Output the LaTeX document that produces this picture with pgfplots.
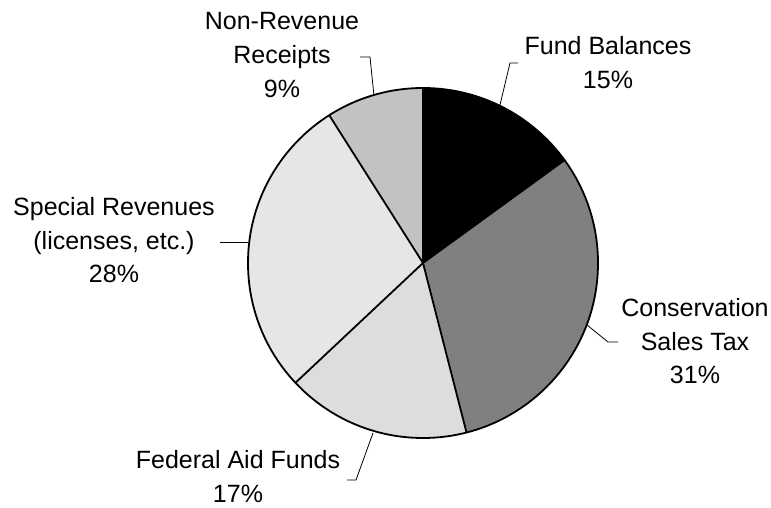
\documentclass[border=0pt]{standalone}
\usepackage{fontspec}
\setmainfont{Liberation Sans}
\usepackage{pgfplots}
\pgfplotsset{compat=1.18}
\definecolor{consv}{HTML}{808080}
\definecolor{fedr}{HTML}{DDDDDD}
\definecolor{spec}{HTML}{E6E6E6}
\definecolor{nonrev}{HTML}{C2C2C2}
\newcommand\labfont{\fontsize{25bp}{34bp}\selectfont}
\tikzset{lab/.style={font=\labfont, inner sep=0pt, anchor=base}}
% slice shares in percent (clockwise from 12 o'clock)
% Fund Balances 15, Conservation Sales Tax 31, Federal Aid Funds 17,
% Special Revenues 28, Non-Revenue Receipts 9
\begin{document}
\begin{tikzpicture}
\begin{axis}[
  hide axis, x=1bp, y=1bp, xmin=0, xmax=771, ymin=0, ymax=508,
  clip=false,
]
\path (axis cs:0,0) rectangle (axis cs:771,508);
% slices: start angle 90, each spans pct*3.6 degrees clockwise
\fill[black] (axis cs:423,245) -- ++(90:175bp)
  arc[start angle=90, end angle=36, radius=175bp] -- cycle;
\fill[consv] (axis cs:423,245) -- ++(36:175bp)
  arc[start angle=36, end angle=-75.6, radius=175bp] -- cycle;
\fill[fedr] (axis cs:423,245) -- ++(-75.6:175bp)
  arc[start angle=-75.6, end angle=-136.8, radius=175bp] -- cycle;
\fill[spec] (axis cs:423,245) -- ++(-136.8:175bp)
  arc[start angle=-136.8, end angle=-237.6, radius=175bp] -- cycle;
\fill[nonrev] (axis cs:423,245) -- ++(-237.6:175bp)
  arc[start angle=-237.6, end angle=-270, radius=175bp] -- cycle;
% outlines
\draw[line width=1.8bp] (axis cs:423,245) circle[radius=175bp];
\draw[line width=1.8bp] (axis cs:423,245) -- ++(90:175bp);
\draw[line width=1.8bp] (axis cs:423,245) -- ++(36:175bp);
\draw[line width=1.8bp] (axis cs:423,245) -- ++(-75.6:175bp);
\draw[line width=1.8bp] (axis cs:423,245) -- ++(-136.8:175bp);
\draw[line width=1.8bp] (axis cs:423,245) -- ++(-237.6:175bp);
% leader lines
\addplot[black, line width=0.8bp, no marks] coordinates {(518,445) (510,445) (500,403)};
\addplot[black, line width=0.8bp, no marks] coordinates {(587,183) (608,166) (618,166)};
\addplot[black, line width=0.8bp, no marks] coordinates {(373,75) (356,28) (347,28)};
\addplot[black, line width=0.8bp, no marks] coordinates {(220,266) (248,266)};
\addplot[black, line width=0.8bp, no marks] coordinates {(360,451) (370,451) (374,412)};
% labels
\node[lab] at (axis cs:608,453) {Fund Balances};
\node[lab] at (axis cs:608,419) {15\%};
\node[lab] at (axis cs:695,191) {Conservation};
\node[lab] at (axis cs:695,157) {Sales Tax};
\node[lab] at (axis cs:695,124) {31\%};
\node[lab] at (axis cs:238,39) {Federal Aid Funds};
\node[lab] at (axis cs:238,5) {17\%};
\node[lab] at (axis cs:114,292) {Special Revenues};
\node[lab] at (axis cs:114,258) {(licenses, etc.)};
\node[lab] at (axis cs:114,225) {28\%};
\node[lab] at (axis cs:282,478) {Non-Revenue};
\node[lab] at (axis cs:282,444) {Receipts};
\node[lab] at (axis cs:282,410) {9\%};
\end{axis}
\end{tikzpicture}
\end{document}
